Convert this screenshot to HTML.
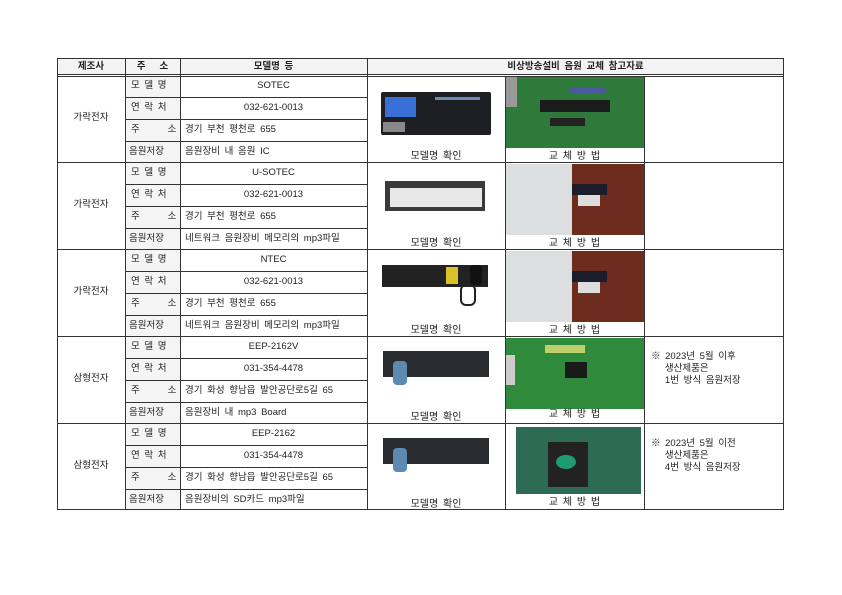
<!DOCTYPE html>
<html><head><meta charset="utf-8">
<style>
*{margin:0;padding:0;box-sizing:border-box}
body{width:842px;height:595px;background:#fff;position:relative;overflow:hidden;font-family:"Liberation Sans","Noto Sans CJK KR","NanumGothic",sans-serif;font-size:9.5px;word-spacing:2px;color:#222}
.a{position:absolute}
.h{position:absolute;height:1px;background:#333}
.v{position:absolute;width:1px;background:#333}
.t{position:absolute;white-space:nowrap;line-height:22px;height:22px}
.c{text-align:center}
.lab{position:absolute;left:126px;width:54px;height:21px;background:#f5f5f5}
</style></head><body>
<div class="a" style="left:57px;top:58px;width:727px;height:17px;background:#f3f3f3"></div>
<div class="t c" style="left:57px;top:56px;width:68px;font-weight:bold">제조사</div>
<div class="t c" style="left:125px;top:56px;width:55px;font-weight:bold">주&nbsp;&nbsp;&nbsp;소</div>
<div class="t c" style="left:180px;top:56px;width:187px;font-weight:bold">모델명 등</div>
<div class="t c" style="left:367px;top:56px;width:417px;font-weight:bold">비상방송설비 음원 교체 참고자료</div>

<div class="lab" style="top:76px"></div><div class="lab" style="top:98px"></div><div class="lab" style="top:120px"></div><div class="lab" style="top:142px"></div>
<div class="lab" style="top:163px"></div><div class="lab" style="top:185px"></div><div class="lab" style="top:207px"></div><div class="lab" style="top:229px"></div>
<div class="lab" style="top:250px"></div><div class="lab" style="top:272px"></div><div class="lab" style="top:294px"></div><div class="lab" style="top:316px"></div>
<div class="lab" style="top:337px"></div><div class="lab" style="top:359px"></div><div class="lab" style="top:381px"></div><div class="lab" style="top:403px"></div>
<div class="lab" style="top:424px"></div><div class="lab" style="top:446px"></div><div class="lab" style="top:468px"></div><div class="lab" style="top:490px"></div>

<div class="a" style="left:381px;top:92px;width:110px;height:43px;background:#1e1f22;border-radius:2px"></div>
<div class="a" style="left:385px;top:97px;width:31px;height:20px;background:#3a6fd8"></div>
<div class="a" style="left:383px;top:122px;width:22px;height:10px;background:#888"></div>
<div class="a" style="left:435px;top:97px;width:45px;height:3px;background:#6c8ab8"></div>
<div class="a" style="left:505px;top:77px;width:139px;height:71px;background:#2e7a3a"></div>
<div class="a" style="left:540px;top:100px;width:70px;height:12px;background:#1b1b1b"></div>
<div class="a" style="left:550px;top:118px;width:35px;height:8px;background:#222"></div>
<div class="a" style="left:505px;top:77px;width:12px;height:30px;background:#999"></div>
<div class="a" style="left:570px;top:88px;width:35px;height:6px;background:#4a5aa0"></div>

<div class="a" style="left:385px;top:181px;width:100px;height:30px;background:#3a3a3a"></div>
<div class="a" style="left:390px;top:188px;width:92px;height:19px;background:#e8e8e8"></div>
<div class="a" style="left:505px;top:164px;width:139px;height:71px;background:#dcdfe0"></div>
<div class="a" style="left:572px;top:164px;width:72px;height:71px;background:#6e2c1e"></div>
<div class="a" style="left:572px;top:184px;width:35px;height:11px;background:#1b1d2a"></div>
<div class="a" style="left:578px;top:195px;width:22px;height:11px;background:#ddd"></div>

<div class="a" style="left:382px;top:265px;width:106px;height:22px;background:#222"></div>
<div class="a" style="left:446px;top:267px;width:12px;height:17px;background:#d9c229"></div>
<div class="a" style="left:470px;top:265px;width:12px;height:20px;background:#111;border-radius:4px"></div>
<div class="a" style="left:460px;top:284px;width:16px;height:22px;border:2px solid #222;border-radius:6px"></div>
<div class="a" style="left:505px;top:251px;width:139px;height:71px;background:#dcdfe0"></div>
<div class="a" style="left:572px;top:251px;width:72px;height:71px;background:#6e2c1e"></div>
<div class="a" style="left:572px;top:271px;width:35px;height:11px;background:#1b1d2a"></div>
<div class="a" style="left:578px;top:282px;width:22px;height:11px;background:#ddd"></div>

<div class="a" style="left:383px;top:351px;width:106px;height:26px;background:#2a2c30"></div>
<div class="a" style="left:393px;top:361px;width:14px;height:24px;background:#5d8ab0;border-radius:4px"></div>
<div class="a" style="left:505px;top:338px;width:139px;height:71px;background:#2f8a3c"></div>
<div class="a" style="left:565px;top:362px;width:22px;height:16px;background:#1a1a1a"></div>
<div class="a" style="left:505px;top:355px;width:10px;height:30px;background:#ccc"></div>
<div class="a" style="left:545px;top:345px;width:40px;height:8px;background:#bfcf6a"></div>

<div class="a" style="left:383px;top:438px;width:106px;height:26px;background:#2a2c30"></div>
<div class="a" style="left:393px;top:448px;width:14px;height:24px;background:#5d8ab0;border-radius:4px"></div>
<div class="a" style="left:516px;top:427px;width:125px;height:67px;background:#2d6b55"></div>
<div class="a" style="left:548px;top:442px;width:40px;height:45px;background:#222"></div>
<div class="a" style="left:556px;top:455px;width:20px;height:14px;background:#1e9c70;border-radius:50%"></div>

<div class="t c" style="left:57px;top:107px;width:68px">가락전자</div>
<div class="t c" style="left:57px;top:194px;width:68px">가락전자</div>
<div class="t c" style="left:57px;top:281px;width:68px">가락전자</div>
<div class="t c" style="left:57px;top:368px;width:68px">삼형전자</div>
<div class="t c" style="left:57px;top:455px;width:68px">삼형전자</div>

<div class="t" style="left:131px;top:75px">모 델 명</div><div class="t" style="left:131px;top:97px">연 락 처</div><div class="t" style="left:131px;top:119px">주&nbsp;&nbsp;&nbsp;&nbsp;&nbsp;&nbsp;소</div><div class="t" style="left:129px;top:141px;word-spacing:0">음원저장</div>
<div class="t" style="left:131px;top:162px">모 델 명</div><div class="t" style="left:131px;top:184px">연 락 처</div><div class="t" style="left:131px;top:206px">주&nbsp;&nbsp;&nbsp;&nbsp;&nbsp;&nbsp;소</div><div class="t" style="left:129px;top:228px;word-spacing:0">음원저장</div>
<div class="t" style="left:131px;top:249px">모 델 명</div><div class="t" style="left:131px;top:271px">연 락 처</div><div class="t" style="left:131px;top:293px">주&nbsp;&nbsp;&nbsp;&nbsp;&nbsp;&nbsp;소</div><div class="t" style="left:129px;top:315px;word-spacing:0">음원저장</div>
<div class="t" style="left:131px;top:336px">모 델 명</div><div class="t" style="left:131px;top:358px">연 락 처</div><div class="t" style="left:131px;top:380px">주&nbsp;&nbsp;&nbsp;&nbsp;&nbsp;&nbsp;소</div><div class="t" style="left:129px;top:402px;word-spacing:0">음원저장</div>
<div class="t" style="left:131px;top:423px">모 델 명</div><div class="t" style="left:131px;top:445px">연 락 처</div><div class="t" style="left:131px;top:467px">주&nbsp;&nbsp;&nbsp;&nbsp;&nbsp;&nbsp;소</div><div class="t" style="left:129px;top:489px;word-spacing:0">음원저장</div>

<div class="t c" style="left:180px;top:75px;width:187px">SOTEC</div>
<div class="t c" style="left:180px;top:97px;width:187px">032-621-0013</div>
<div class="t" style="left:185px;top:119px">경기 부천 평천로 655</div>
<div class="t" style="left:185px;top:141px">음원장비 내 음원 IC</div>
<div class="t c" style="left:180px;top:162px;width:187px">U-SOTEC</div>
<div class="t c" style="left:180px;top:184px;width:187px">032-621-0013</div>
<div class="t" style="left:185px;top:206px">경기 부천 평천로 655</div>
<div class="t" style="left:185px;top:228px">네트워크 음원장비 메모리의 mp3파일</div>
<div class="t c" style="left:180px;top:249px;width:187px">NTEC</div>
<div class="t c" style="left:180px;top:271px;width:187px">032-621-0013</div>
<div class="t" style="left:185px;top:293px">경기 부천 평천로 655</div>
<div class="t" style="left:185px;top:315px">네트워크 음원장비 메모리의 mp3파일</div>
<div class="t c" style="left:180px;top:336px;width:187px">EEP-2162V</div>
<div class="t c" style="left:180px;top:358px;width:187px">031-354-4478</div>
<div class="t" style="left:185px;top:380px">경기 화성 향남읍 발안공단로5길 65</div>
<div class="t" style="left:185px;top:402px">음원장비 내 mp3 Board</div>
<div class="t c" style="left:180px;top:423px;width:187px">EEP-2162</div>
<div class="t c" style="left:180px;top:445px;width:187px">031-354-4478</div>
<div class="t" style="left:185px;top:467px">경기 화성 향남읍 발안공단로5길 65</div>
<div class="t" style="left:185px;top:489px">음원장비의 SD카드 mp3파일</div>

<div class="t c" style="left:367px;top:146px;width:138px;font-size:10px">모델명 확인</div>
<div class="t c" style="left:505px;top:146px;width:139px;font-size:10px">교 체 방 법</div>
<div class="t c" style="left:367px;top:233px;width:138px;font-size:10px">모델명 확인</div>
<div class="t c" style="left:505px;top:233px;width:139px;font-size:10px">교 체 방 법</div>
<div class="t c" style="left:367px;top:320px;width:138px;font-size:10px">모델명 확인</div>
<div class="t c" style="left:505px;top:320px;width:139px;font-size:10px">교 체 방 법</div>
<div class="t c" style="left:367px;top:407px;width:138px;font-size:10px">모델명 확인</div>
<div class="t c" style="left:505px;top:404px;width:139px;font-size:10px">교 체 방 법</div>
<div class="t c" style="left:367px;top:494px;width:138px;font-size:10px">모델명 확인</div>
<div class="t c" style="left:505px;top:492px;width:139px;font-size:10px">교 체 방 법</div>

<div class="a" style="left:651px;top:351px;line-height:12px;white-space:nowrap">※ 2023년 5월 이후<br>&nbsp;&nbsp;&nbsp;생산제품은<br>&nbsp;&nbsp;&nbsp;1번 방식 음원저장</div>
<div class="a" style="left:651px;top:438px;line-height:12px;white-space:nowrap">※ 2023년 5월 이전<br>&nbsp;&nbsp;&nbsp;생산제품은<br>&nbsp;&nbsp;&nbsp;4번 방식 음원저장</div>

<div class="h" style="left:57px;top:58px;width:727px"></div>
<div class="h" style="left:57px;top:74px;width:727px"></div>
<div class="h" style="left:57px;top:76px;width:727px"></div>
<div class="h" style="left:57px;top:162px;width:727px"></div>
<div class="h" style="left:57px;top:249px;width:727px"></div>
<div class="h" style="left:57px;top:336px;width:727px"></div>
<div class="h" style="left:57px;top:423px;width:727px"></div>
<div class="h" style="left:57px;top:509px;width:727px"></div>
<div class="h" style="left:125px;top:97px;width:242px"></div><div class="h" style="left:125px;top:119px;width:242px"></div><div class="h" style="left:125px;top:141px;width:242px"></div>
<div class="h" style="left:125px;top:184px;width:242px"></div><div class="h" style="left:125px;top:206px;width:242px"></div><div class="h" style="left:125px;top:228px;width:242px"></div>
<div class="h" style="left:125px;top:271px;width:242px"></div><div class="h" style="left:125px;top:293px;width:242px"></div><div class="h" style="left:125px;top:315px;width:242px"></div>
<div class="h" style="left:125px;top:358px;width:242px"></div><div class="h" style="left:125px;top:380px;width:242px"></div><div class="h" style="left:125px;top:402px;width:242px"></div>
<div class="h" style="left:125px;top:445px;width:242px"></div><div class="h" style="left:125px;top:467px;width:242px"></div><div class="h" style="left:125px;top:489px;width:242px"></div>
<div class="v" style="left:57px;top:58px;height:452px"></div>
<div class="v" style="left:125px;top:58px;height:452px"></div>
<div class="v" style="left:180px;top:58px;height:452px"></div>
<div class="v" style="left:367px;top:58px;height:452px"></div>
<div class="v" style="left:505px;top:76px;height:434px"></div>
<div class="v" style="left:644px;top:76px;height:434px"></div>
<div class="v" style="left:783px;top:58px;height:452px"></div>
</body></html>
